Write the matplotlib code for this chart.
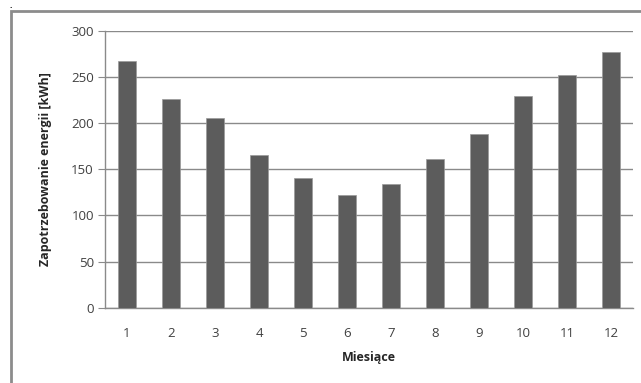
import matplotlib.pyplot as plt
from matplotlib.patches import Rectangle

months = [1, 2, 3, 4, 5, 6, 7, 8, 9, 10, 11, 12]
energy = [268, 226, 206, 166, 141, 122, 134, 161, 188, 230, 252, 277]
yticks = [0, 50, 100, 150, 200, 250, 300]

plt.rcParams['font.family'] = ['Open Sans', 'DejaVu Sans']

fig = plt.figure(figsize=(6.41, 3.83), dpi=100)
fig.patch.set_facecolor('white')

# outer frame (cut off at right and bottom)
fig.patches.append(Rectangle((11/641, -0.05), 1.2, 1 - 11/383 + 0.05,
                             transform=fig.transFigure, fill=False,
                             edgecolor='#8c8c8c', linewidth=2))
fig.text(11/641, 1 - 1/383, '.', fontsize=6, fontweight='bold', color='black',
         ha='center', va='top')

ax = fig.add_axes([105/641, 1 - 307.7/383, 528/641, (307.7 - 31)/383])
ax.bar(months, energy, width=0.41, color='#5c5c5c', edgecolor='#9a9a9a', linewidth=0.5, zorder=3)

ax.set_xlim(0.5, 12.5)
ax.set_ylim(0, 300)
ax.set_yticks(yticks)
ax.set_xticks(months)
ax.grid(axis='y', color='#8a8a8a', linewidth=1, zorder=0)

for s in ['top', 'right']:
    ax.spines[s].set_visible(False)
for s in ['left', 'bottom']:
    ax.spines[s].set_color('#8a8a8a')
    ax.spines[s].set_linewidth(1)

ax.tick_params(axis='y', length=5, color='#8a8a8a', labelsize=9.5, labelcolor='#404040', pad=3)
ax.tick_params(axis='x', length=0, labelsize=9.5, labelcolor='#404040', pad=14)

ax.set_xlabel('Miesiące', fontsize=9, fontweight='bold', color='#262626', labelpad=8)
ax.set_ylabel('Zapotrzebowanie energii [kWh]', fontsize=9, fontweight='bold', color='#262626', labelpad=14)

fig.savefig('out.png', dpi=100)
